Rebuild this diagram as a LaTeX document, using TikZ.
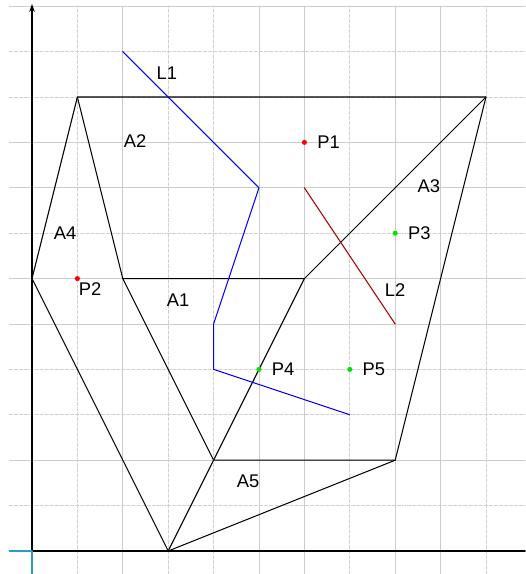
\documentclass[tikz,border=0pt]{standalone}
\usepackage{fontspec}
\setmainfont{Liberation Sans}
\usetikzlibrary{arrows.meta}

\begin{document}
\begin{tikzpicture}[x=1cm, y=1cm, >=Stealth, line join=round, line cap=round,
    font=\fontsize{11.5}{13}\selectfont,
    gridsolid/.style={black!20, line width=0.6pt},
    griddash/.style={black!18, line width=0.6pt, dash pattern=on 2pt off 1.2pt},
    edge/.style={black, line width=0.65pt},
    axis/.style={black, line width=1.1pt},
    dot/.style={circle, inner sep=0pt, minimum size=3.2pt}]
    \useasboundingbox (-0.705,-0.507) rectangle (10.86,12.137);
    % grid
    \foreach \k in {2,5,6,8,9,12} \draw[gridsolid] (-0.5,\k) -- (10.86,\k);
    \foreach \k in {1,3,4,7,10,11} \draw[griddash] (-0.5,\k) -- (10.86,\k);
    \foreach \k in {2,5,6,8,9} \draw[gridsolid] (\k,-0.507) -- (\k,12);
    \foreach \k in {1,3,4,7,10} \draw[griddash] (\k,-0.507) -- (\k,12);
    % axes
    \coordinate (O) at (0,0);
    \coordinate (xl) at (-0.5,0);
    \coordinate (xr) at (10.86,0);
    \coordinate (yb) at (0,-0.507);
    \coordinate (yt) at (0,12.05);
    \draw[axis] (O) -- (xr);
    \draw[axis, -{Stealth[length=5pt, width=3.5pt]}] (O) -- (yt);
    \draw[cyan!80!black, line width=0.8pt] (xl) -- (O) -- (yb);
    % polygon vertices
    \coordinate (a) at (1,10);
    \coordinate (b) at (10,10);
    \coordinate (c) at (0,6);
    \coordinate (d) at (2,6);
    \coordinate (e) at (6,6);
    \coordinate (f) at (4,2);
    \coordinate (g) at (8,2);
    \coordinate (h) at (3,0);
    \draw[edge] (c) -- (a) -- (b) -- (g) -- (h) -- cycle;
    \draw[edge] (a) -- (d) -- (f) -- (g);
    \draw[edge] (d) -- (e) -- (b);
    \draw[edge] (e) -- (f) -- (h);
    % lines
    \coordinate (l1a) at (2,11);
    \coordinate (l1b) at (5,8);
    \coordinate (l1c) at (4,5);
    \coordinate (l1d) at (4,4);
    \coordinate (l1e) at (7,3);
    \draw[blue, line width=0.65pt] (l1a) -- (l1b) -- (l1c) -- (l1d) -- (l1e);
    \coordinate (l2a) at (6,8);
    \coordinate (l2b) at (8,5);
    \draw[red!65!black, line width=0.65pt] (l2a) -- (l2b);
    % points
    \node[dot, fill=red] (P1) at (6,9) {};
    \node[dot, fill=red] (P2) at (1,6) {};
    \node[dot, fill=green!90!black] (P3) at (8,7) {};
    \node[dot, fill=green!90!black] (P4) at (5,4) {};
    \node[dot, fill=green!90!black] (P5) at (7,4) {};
    % labels
    \node[anchor=west] (tP1) at (6.16,9) {P1};
    \node (tP2) at (1.28,5.77) {P2};
    \node[anchor=west] (tP3) at (8.16,7) {P3};
    \node[anchor=west] (tP4) at (5.16,4) {P4};
    \node[anchor=west] (tP5) at (7.16,4) {P5};
    \node (tA1) at (3.22,5.53) {A1};
    \node (tA2) at (2.27,9.03) {A2};
    \node (tA3) at (8.74,8.04) {A3};
    \node (tA4) at (0.73,7.0) {A4};
    \node (tA5) at (4.76,1.54) {A5};
    \node (tL1) at (2.97,10.53) {L1};
    \node (tL2) at (8.0,5.75) {L2};
\end{tikzpicture}
\end{document}
